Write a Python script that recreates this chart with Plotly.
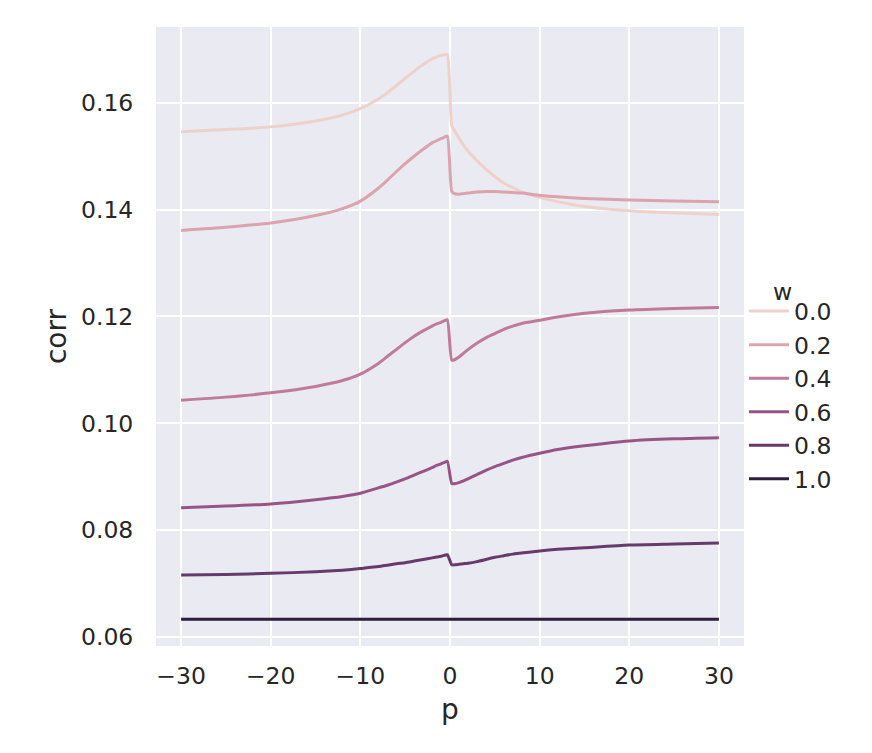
import plotly.graph_objects as go

# p values shared by all curves
p = [-30, -25, -20, -15, -12, -10, -8, -7, -6, -5, -4, -3, -2, -1.5, -1, -0.6, -0.3,
     0.2, 0.5, 1, 1.5, 2, 3, 4, 5, 6, 7, 8, 10, 12, 15, 20, 25, 30]

# correlation curves, one per w
corr_w00 = [0.1546, 0.1550, 0.1555, 0.1566, 0.1577, 0.1589, 0.1607, 0.1619, 0.1632, 0.1646,
            0.1659, 0.1672, 0.1682, 0.1686, 0.1689, 0.1690, 0.1690,
            0.1557, 0.1548, 0.1534, 0.1521, 0.1510, 0.1492, 0.1476, 0.1462, 0.1450, 0.1441,
            0.1433, 0.1423, 0.1415, 0.1406, 0.1398, 0.1394, 0.1391]
corr_w02 = [0.1361, 0.1367, 0.1375, 0.1389, 0.1402, 0.1416, 0.1440, 0.1455, 0.1471, 0.1486,
            0.1500, 0.1513, 0.1525, 0.1529, 0.1533, 0.1536, 0.1538,
            0.1434, 0.1430, 0.1429, 0.1430, 0.1431, 0.1433, 0.1434, 0.1434, 0.1433, 0.1432,
            0.1431, 0.1427, 0.1424, 0.1421, 0.1418, 0.1416, 0.1415]
corr_w04 = [0.1043, 0.1049, 0.1057, 0.1069, 0.1080, 0.1092, 0.1112, 0.1125, 0.1138, 0.1151,
            0.1163, 0.1173, 0.1182, 0.1186, 0.1189, 0.1192, 0.1194,
            0.1118, 0.1119, 0.1124, 0.1131, 0.1138, 0.1150, 0.1160, 0.1168, 0.1176, 0.1182,
            0.1187, 0.1193, 0.1199, 0.1206, 0.1212, 0.1215, 0.1217]
corr_w06 = [0.0842, 0.0845, 0.0849, 0.0857, 0.0863, 0.0869, 0.0879, 0.0884, 0.0890, 0.0896,
            0.0903, 0.0910, 0.0917, 0.0921, 0.0924, 0.0927, 0.0929,
            0.0887, 0.0887, 0.0889, 0.0892, 0.0896, 0.0904, 0.0912, 0.0919, 0.0925, 0.0931,
            0.0936, 0.0944, 0.0951, 0.0958, 0.0967, 0.0971, 0.0973]
corr_w08 = [0.0716, 0.0717, 0.0719, 0.0722, 0.0725, 0.0728, 0.0732, 0.0734, 0.0737, 0.0739,
            0.0742, 0.0745, 0.0748, 0.07495, 0.0751, 0.0753, 0.0754,
            0.0735, 0.0735, 0.0736, 0.0737, 0.0738, 0.0741, 0.0745, 0.0749, 0.0752, 0.0755,
            0.0757, 0.0761, 0.0764, 0.0767, 0.0772, 0.0774, 0.0776]
corr_w10 = [0.0633] * len(p)

w_labels = ["0.0", "0.2", "0.4", "0.6", "0.8", "1.0"]
series = [corr_w00, corr_w02, corr_w04, corr_w06, corr_w08, corr_w10]
colors = ["#eed1c9", "#dba3ab", "#c07a9b", "#985486", "#673a6b", "#2d1e3e"]

x_ticks = [-30, -20, -10, 0, 10, 20, 30]
y_ticks = [0.06, 0.08, 0.10, 0.12, 0.14, 0.16]

text_color = "#262626"
font_size = 23.5

fig = go.Figure()
for label, vals, col in zip(w_labels, series, colors):
    fig.add_trace(go.Scatter(x=p, y=vals, name=label, mode="lines", legendgroup=label,
                             line=dict(color=col, width=3, shape="spline", smoothing=0.6)))

# page body has an 8px margin, so the figure is a bit smaller than the window
fig.update_layout(
    width=864, height=745, autosize=False,
    paper_bgcolor="white", plot_bgcolor="#eaeaf2",
    margin=dict(l=148, r=128, t=19, b=107),
    font=dict(family="DejaVu Sans", size=font_size, color=text_color),
    legend=dict(
        x=1.0, xanchor="left", y=0.405, yanchor="middle",
        bgcolor="rgba(0,0,0,0)", font=dict(size=font_size),
        itemwidth=40, tracegroupgap=0,
    ),
)
# legend title placed by hand, closer to the entries like seaborn does
fig.add_annotation(text="w", xref="paper", yref="paper", x=1.066, y=0.572,
                   xanchor="center", yanchor="middle", showarrow=False,
                   font=dict(size=font_size, color=text_color))
fig.update_xaxes(
    range=[-32.8, 32.8], tickvals=x_ticks,
    ticktext=[str(t).replace("-", "\u2212") for t in x_ticks],
    showgrid=True, gridcolor="white", gridwidth=2, zeroline=False,
    ticks="outside", ticklen=9, tickcolor="rgba(0,0,0,0)",
    title=dict(text="p", standoff=10),
)
fig.update_yaxes(
    range=[0.0583, 0.1742], tickvals=y_ticks, ticktext=["%.2f" % t for t in y_ticks],
    showgrid=True, gridcolor="white", gridwidth=2, zeroline=False,
    ticks="outside", ticklen=17, tickcolor="rgba(0,0,0,0)",
    title=dict(text="corr", standoff=6),
)

fig.write_html("out.html")
